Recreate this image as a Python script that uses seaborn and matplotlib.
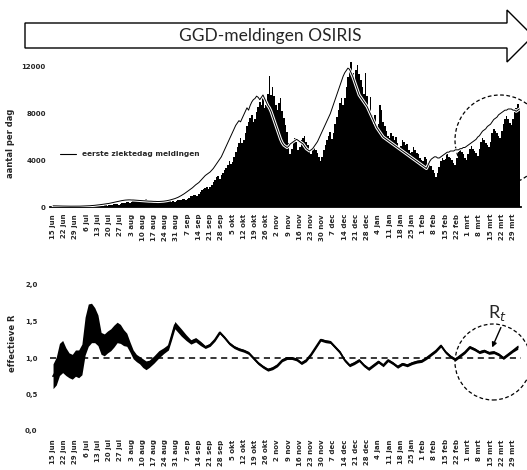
import numpy as np
import matplotlib
matplotlib.use("Agg")
import matplotlib.pyplot as plt
import matplotlib.patheffects as pe
from matplotlib.patches import Polygon, Ellipse, FancyArrowPatch
from matplotlib.lines import Line2D
import seaborn as sns

# ---------------- data ----------------
tick_labels = ["15 jun", "22 jun", "29 jun", "6 jul", "13 jul", "20 jul", "27 jul",
               "3 aug", "10 aug", "17 aug", "24 aug", "31 aug", "7 sep", "14 sep",
               "21 sep", "28 sep", "5 okt", "12 okt", "19 okt", "26 okt", "2 nov",
               "9 nov", "16 nov", "23 nov", "30 nov", "7 dec", "14 dec", "21 dec",
               "28 dec", "4 jan", "11 jan", "18 jan", "25 jan", "1 feb", "8 feb",
               "15 feb", "22 feb", "1 mrt", "8 mrt", "15 mrt", "22 mrt", "29 mrt"]

# daily reported cases (bars), week by week starting 15 jun
gemeld = [
    130, 110, 125, 140, 115, 100, 95,
    85, 70, 95, 80, 75, 60, 65,
    55, 65, 75, 60, 70, 60, 55,
    60, 75, 85, 70, 95, 80, 65,
    90, 110, 125, 105, 135, 140, 115,
    150, 185, 210, 220, 240, 255, 205,
    290, 330, 360, 385, 410, 430, 380,
    450, 520, 560, 610, 630, 585, 520,
    570, 640, 660, 610, 590, 570, 500,
    510, 550, 570, 530, 500, 490, 440,
    440, 480, 510, 490, 460, 490, 450,
    500, 570, 610, 630, 660, 690, 640,
    720, 810, 900, 960, 1010, 1060, 980,
    1100, 1260, 1420, 1520, 1640, 1720, 1560,
    1680, 1920, 2150, 2350, 2560, 2640, 2420,
    2700, 2950, 3150, 3380, 3620, 3900, 3650,
    3850, 4300, 4700, 5100, 5450, 5950, 5500,
    5700, 6300, 6900, 7300, 7600, 7900, 7300,
    7500, 8100, 8600, 9000, 8700, 9300, 8500,
    8700, 9700, 11200, 9600, 10300, 9500, 8700,
    8300, 8900, 9300, 8200, 7600, 7000, 6400,
    5500, 4500, 5000, 5500, 5900, 5600, 4900,
    5100, 5700, 5900, 6100, 5600, 5300, 4700,
    4500, 5000, 5200, 4900, 4600, 4300, 3900,
    4300, 4900, 5300, 5700, 6100, 6400, 5800,
    6300, 7100, 7700, 8300, 8900, 9300, 8700,
    9300, 10300, 11100, 11900, 12400, 11500, 10900,
    11700, 12200, 11400, 10900, 10300, 9700, 11500,
    9500, 8100, 9400, 7900, 7100, 7900, 6900,
    7100, 8700, 8300, 7300, 6900, 6500, 6100,
    5900, 6300, 6100, 5700, 6000, 5500, 5100,
    5200, 5700, 5600, 5300, 5400, 4900, 4600,
    4700, 5100, 4900, 4600, 4500, 4200, 4000,
    3900, 4300, 4100, 3800, 3700, 3500, 3200,
    2900, 2600, 2900, 3400, 3900, 4200, 4000,
    4100, 4500, 4300, 4200, 4000, 3800, 3600,
    4200, 4700, 5000, 4700, 4500, 4200, 4000,
    4500, 5000, 5200, 5000, 4800, 4600, 4400,
    5000, 5600, 5900, 5700, 5500, 5300, 5100,
    5600, 6300, 6700, 6500, 6300, 6100, 5900,
    6500, 7100, 7500, 7800, 7500, 7200, 7000,
    7500, 8100, 8500, 8800, 8400,
]

# cases by first day of illness (line)
ziektedag = [
    100, 100, 95, 90, 90, 85, 80,
    80, 75, 75, 70, 70, 70, 70,
    70, 70, 75, 75, 80, 85, 90,
    95, 100, 110, 120, 130, 145, 160,
    175, 190, 210, 230, 250, 270, 290,
    310, 340, 370, 400, 430, 460, 490,
    520, 550, 570, 590, 600, 610, 610,
    600, 600, 590, 580, 570, 560, 550,
    540, 530, 520, 510, 500, 500, 490,
    480, 480, 470, 470, 480, 490, 500,
    520, 540, 570, 600, 640, 680, 720,
    770, 830, 900, 980, 1060, 1150, 1250,
    1350, 1450, 1550, 1650, 1780, 1900, 2000,
    2100, 2250, 2400, 2550, 2700, 2800, 2900,
    3000, 3150, 3300, 3500, 3700, 3900, 4100,
    4300, 4600, 4900, 5200, 5500, 5800, 6100,
    6400, 6700, 7000, 7200, 7400, 7300, 7600,
    7900, 8200, 8500, 8300, 8700, 9000, 9200,
    9300, 9500, 9400, 9200, 9400, 9600, 9300,
    9000, 8700, 8500, 8200, 7800, 7400, 7000,
    6600, 6200, 5800, 5500, 5300, 5200, 5100,
    5200, 5400, 5500, 5600, 5700, 5800, 5700,
    5600, 5500, 5400, 5200, 5000, 4900, 4800,
    4900, 5000, 5200, 5400, 5600, 5900, 6200,
    6500, 6800, 7100, 7400, 7700, 8000, 8400,
    8800, 9200, 9600, 10000, 10400, 10800, 11200,
    11500, 11700, 11900, 11800, 11500, 11200, 10800,
    10400, 10000, 9600, 9400, 9200, 9000, 8800,
    8600, 8300, 8000, 7700, 7400, 7100, 6800,
    6600, 6400, 6200, 6000, 5900, 5800, 5700,
    5600, 5500, 5400, 5300, 5200, 5100, 5000,
    4900, 4800, 4700, 4600, 4500, 4400, 4300,
    4200, 4100, 4000, 3900, 3800, 3700, 3600,
    3500, 3400, 3300, 3600, 3900, 4100, 4200,
    4300, 4300, 4200, 4200, 4300, 4400, 4500,
    4600, 4700, 4700, 4800, 4800, 4800, 4900,
    4900, 4900, 5000, 5000, 5100, 5100, 5200,
    5300, 5400, 5500, 5600, 5700, 5800, 6000,
    6100, 6300, 6500, 6600, 6700, 6900, 7000,
    7100, 7300, 7500, 7600, 7700, 7900, 8000,
    8100, 8200, 8300, 8300, 8400, 8400, 8400,
    8300, 8300, 8200, 8300, 8400,
]

# effective R: day (since 15 jun), estimate, half width of the interval
r_day = [0, 2, 4, 6, 8, 10, 12, 14, 16, 18, 20, 22, 24, 26, 28, 30, 32, 34, 36, 38,
         40, 42, 44, 46, 48, 50, 52, 54, 56, 58, 60, 63, 66, 69, 72, 74, 76, 78, 80,
         83, 86, 89, 92, 95, 98, 101, 104, 107, 110, 113, 116, 119, 122, 125, 128,
         131, 134, 137, 140, 143, 146, 149, 152, 155, 158, 161, 164, 167, 170, 173,
         176, 179, 182, 185, 188, 191, 194, 197, 200, 203, 206, 209, 212, 215, 218,
         221, 224, 227, 230, 233, 236, 239, 242, 245, 248, 251, 254, 257, 260, 263,
         266, 269, 272, 275, 278, 281, 284, 287, 290]
r_mid = [0.75, 0.82, 0.98, 1.02, 0.95, 0.90, 0.88, 0.93, 0.92, 0.98, 1.30, 1.45, 1.48,
         1.45, 1.38, 1.20, 1.18, 1.22, 1.25, 1.30, 1.35, 1.33, 1.28, 1.25, 1.15, 1.05,
         1.00, 0.97, 0.93, 0.90, 0.92, 0.98, 1.05, 1.10, 1.15, 1.30, 1.45, 1.40, 1.35,
         1.28, 1.22, 1.25, 1.20, 1.15, 1.18, 1.25, 1.35, 1.28, 1.20, 1.15, 1.12, 1.10,
         1.07, 1.00, 0.93, 0.88, 0.84, 0.86, 0.90, 0.97, 1.00, 1.00, 0.98, 0.93, 0.97,
         1.05, 1.15, 1.25, 1.23, 1.22, 1.15, 1.08, 0.97, 0.90, 0.93, 0.97, 0.90, 0.85,
         0.90, 0.95, 0.90, 0.97, 0.93, 0.88, 0.92, 0.90, 0.93, 0.95, 0.96, 1.00, 1.05,
         1.10, 1.17, 1.08, 1.02, 0.98, 1.03, 1.08, 1.15, 1.12, 1.08, 1.10, 1.07, 1.08,
         1.05, 1.00, 1.05, 1.10, 1.15]
r_half = [0.17, 0.19, 0.22, 0.22, 0.19, 0.17, 0.17, 0.18, 0.19, 0.21, 0.26, 0.29, 0.27,
          0.24, 0.21, 0.15, 0.15, 0.15, 0.15, 0.15, 0.14, 0.13, 0.11, 0.09, 0.07, 0.06,
          0.05, 0.05, 0.06, 0.06, 0.05, 0.05, 0.05, 0.04, 0.04, 0.05, 0.05, 0.05, 0.05,
          0.04, 0.03, 0.03, 0.03, 0.02, 0.02, 0.02, 0.02, 0.02, 0.02, 0.02, 0.02, 0.02,
          0.02, 0.02, 0.02, 0.02, 0.02, 0.02, 0.02, 0.02, 0.02, 0.02, 0.02, 0.02, 0.02,
          0.02, 0.02, 0.02, 0.02, 0.02, 0.02, 0.02, 0.02, 0.02, 0.02, 0.02, 0.02, 0.02,
          0.02, 0.02, 0.02, 0.02, 0.02, 0.02, 0.02, 0.02, 0.02, 0.02, 0.02, 0.02, 0.02,
          0.02, 0.02, 0.02, 0.02, 0.02, 0.02, 0.02, 0.02, 0.02, 0.02, 0.02, 0.02, 0.02,
          0.02, 0.02, 0.02, 0.02, 0.03]

y_ticks_top = [0, 4000, 8000, 12000]
y_ticks_r = [0.0, 0.5, 1.0, 1.5, 2.0]
y_ticklabels_r = ["0,0", "0,5", "1,0", "1,5", "2,0"]

# ---------------- figure ----------------
sns.set_theme(style="white")
plt.rcParams["font.family"] = ["DejaVu Sans"]

W, H = 527, 470
fig = plt.figure(figsize=(W / 100, H / 100), dpi=100)
fig.patch.set_facecolor("white")


def px(x, y):
    return (x / W, 1 - y / H)


days = np.arange(len(gemeld))
tick_pos = np.arange(len(tick_labels)) * 7
xlim = (-1.9, 292)

# ---- top panel ----
ax1 = fig.add_axes([50 / W, 1 - 207 / H, 471 / W, 149 / H])
ax1.set_facecolor("white")
sns.barplot(x=days, y=gemeld, native_scale=True, color="black", saturation=1,
            width=1.0, linewidth=0, errorbar=None, ax=ax1, zorder=2)
sns.lineplot(x=days, y=ziektedag, ax=ax1, color="black", lw=0.7, zorder=3,
             path_effects=[pe.Stroke(linewidth=2.2, foreground="white"), pe.Normal()])
ax1.set_xlim(*xlim)
ax1.set_ylim(0, 12770)
ax1.set_yticks(y_ticks_top)
ax1.set_yticklabels([str(v) for v in y_ticks_top], fontsize=5, fontweight="bold")
ax1.set_xticks(tick_pos)
ax1.set_xticklabels(tick_labels, rotation=90, fontsize=5, fontweight="bold")
ax1.tick_params(axis="both", length=0, pad=3)
ax1.tick_params(axis="x", pad=5)
for s in ["top", "right", "left"]:
    ax1.spines[s].set_visible(False)
ax1.spines["bottom"].set_color("black")
ax1.spines["bottom"].set_linewidth(1.3)
ax1.set_xlabel("")
ax1.set_ylabel("aantal per dag", fontsize=6, fontweight="bold", labelpad=8)
ax1.yaxis.set_label_coords(-35 / 471, 0.43)

# legend
fig.add_artist(Line2D([60 / W, 76 / W], [1 - 154 / H] * 2, color="black", lw=0.8))
fig.text(*px(82, 154), "eerste ziektedag meldingen", fontsize=5.3, va="center",
         ha="left", fontweight="bold")

# dashed circle top (behind bars)
e1 = Ellipse(px(500, 140), 90 / W, 90 / H, transform=fig.transFigure, fill=False,
             ec="black", lw=0.9, ls=(0, (3, 2)), zorder=1, clip_on=False)
ax1.add_patch(e1)

# ---- bottom panel ----
ax2 = fig.add_axes([50 / W, 1 - 431 / H, 471 / W, 146 / H])
ax2.set_facecolor("white")
lo = [m - h for m, h in zip(r_mid, r_half)]
hi = [m + h for m, h in zip(r_mid, r_half)]
ax2.fill_between(r_day, lo, hi, color="black", lw=0, zorder=2)
sns.lineplot(x=r_day, y=r_mid, ax=ax2, color="black", lw=1.3, zorder=3)
ax2.axhline(1.0, color="black", lw=1.1, ls=(0, (4, 3)), zorder=1)
ax2.set_xlim(*xlim)
ax2.set_ylim(0, 2.0)
ax2.set_yticks(y_ticks_r)
ax2.set_yticklabels(y_ticklabels_r, fontsize=5, fontweight="bold")
ax2.set_xticks(tick_pos)
ax2.set_xticklabels(tick_labels, rotation=90, fontsize=5, fontweight="bold")
ax2.tick_params(axis="both", length=0)
ax2.tick_params(axis="y", pad=9)
ax2.tick_params(axis="x", pad=6)
for s in ["top", "right", "left", "bottom"]:
    ax2.spines[s].set_visible(False)
ax2.set_xlabel("")
ax2.set_ylabel("effectieve R", fontsize=6, fontweight="bold")
ax2.yaxis.set_label_coords(-33 / 471, 0.6)

e2 = Ellipse(px(493, 362), 76 / W, 76 / H, transform=fig.transFigure, fill=False,
             ec="black", lw=0.9, ls=(0, (3, 2)), zorder=5, clip_on=False)
fig.add_artist(e2)
fig.text(*px(497, 313), "R$_t$", fontsize=13, ha="center", va="center",
         family="Lato")
arr = FancyArrowPatch(px(502, 325), px(491, 350), transform=fig.transFigure,
                      arrowstyle="-|>", mutation_scale=7, color="black", lw=1.0)
fig.add_artist(arr)

# ---- header arrow ----
pts = [px(25, 23), px(507, 23), px(507, 10), px(533, 36), px(507, 62), px(507, 48),
       px(25, 48)]
fig.add_artist(Polygon(pts, closed=True, transform=fig.transFigure, fc="white",
                       ec="black", lw=1.0))
fig.text(*px(270, 36), "GGD-meldingen OSIRIS", fontsize=12.5, ha="center",
         va="center", family="Lato")

fig.savefig("out.png", dpi=100, facecolor="white")
